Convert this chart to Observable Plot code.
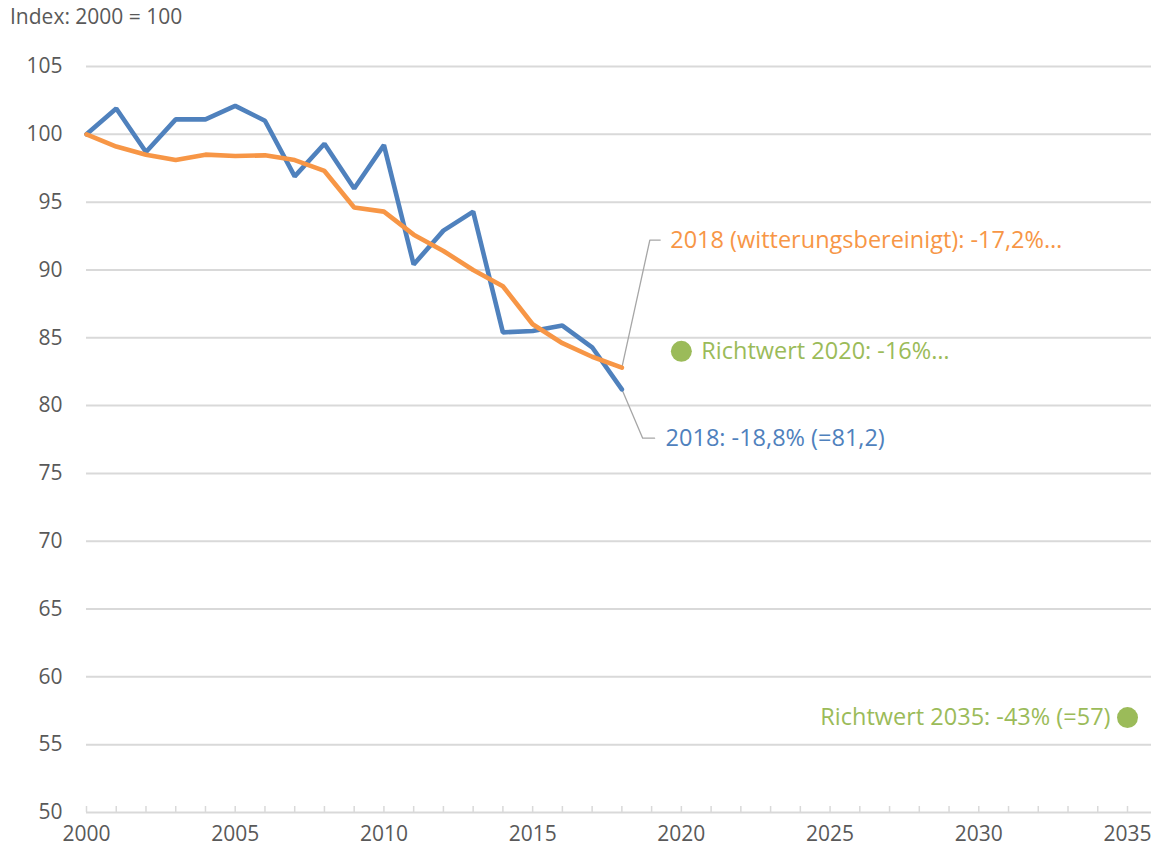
<!DOCTYPE html>
<html>
<head>
<meta charset="utf-8">
<script src="https://cdn.jsdelivr.net/npm/d3@7"></script>
<script src="https://cdn.jsdelivr.net/npm/@observablehq/plot@0.6"></script>
<style>
  html, body { margin: 0; padding: 0; background: #fff; }
  body { width: 1151px; height: 855px; overflow: hidden; font-family: "Open Sans", sans-serif; }
  #title { height: 30px; line-height: 32px; padding-left: 10px; font-size: 21px; color: #595959; }
</style>
</head>
<body>
<div id="title">Index: 2000 = 100</div>
<div id="chart"></div>
<script>
// ---- data ----
const years = [2000, 2001, 2002, 2003, 2004, 2005, 2006, 2007, 2008, 2009, 2010, 2011, 2012, 2013, 2014, 2015, 2016, 2017, 2018];
const actual = [100, 101.9, 98.7, 101.1, 101.1, 102.1, 101.0, 96.9, 99.3, 96.0, 99.2, 90.4, 92.9, 94.3, 85.4, 85.5, 85.9, 84.3, 81.2];
const weatherAdjusted = [100, 99.1, 98.5, 98.1, 98.5, 98.4, 98.45, 98.1, 97.3, 94.6, 94.3, 92.6, 91.4, 90.0, 88.8, 86.0, 84.6, 83.6, 82.8];
const targetYears = [2020, 2035];
const targetValues = [84, 57];
const targetLabels = ["Richtwert 2020: -16%…", "Richtwert 2035: -43% (=57)"];
const labelActual = "2018: -18,8% (=81,2)";
const labelAdjusted = "2018 (witterungsbereinigt): -17,2%…";
// callout anchor positions (data units): elbow and end of leader lines
const calloutAdjusted = {elbowYear: 2018.94, endYear: 2019.29, value: 92.2};
const calloutActual = {elbowYear: 2018.7, endYear: 2019.1, value: 77.6};
const yTicks = [50, 55, 60, 65, 70, 75, 80, 85, 90, 95, 100, 105];
const xTickLabels = [2000, 2005, 2010, 2015, 2020, 2025, 2030, 2035];
const xMinorTicks = d3.range(2000, 2036);

const BLUE = "#4f81bd", ORANGE = "#f79646", GREEN = "#9bbb59", GRID = "#d9d9d9", TEXT = "#595959", LEADER = "#a6a6a6";

const series = years.map((y, i) => ({year: y, value: actual[i]}));
const seriesAdj = years.map((y, i) => ({year: y, value: weatherAdjusted[i]}));
const targets = targetYears.map((y, i) => ({year: y, value: targetValues[i], label: targetLabels[i]}));

const lastA = {year: years[years.length - 1], value: actual[actual.length - 1]};
const lastW = {year: years[years.length - 1], value: weatherAdjusted[weatherAdjusted.length - 1]};
const leaderW = [lastW, {year: calloutAdjusted.elbowYear, value: calloutAdjusted.value}, {year: calloutAdjusted.endYear, value: calloutAdjusted.value}];
const leaderA = [lastA, {year: calloutActual.elbowYear, value: calloutActual.value}, {year: calloutActual.endYear, value: calloutActual.value}];

const chart = Plot.plot({
  width: 1151,
  height: 825,
  marginTop: 36,
  marginBottom: 43,
  marginLeft: 86,
  marginRight: 24,
  style: {fontFamily: "Open Sans, sans-serif", fontSize: "20px", color: TEXT, background: "white"},
  x: {domain: [2000, 2035], type: "linear", axis: null},
  y: {domain: [50, 105], axis: null},
  marks: [
    Plot.gridY(yTicks.filter(d => d > 50), {stroke: GRID, strokeOpacity: 1, strokeWidth: 2, insetRight: -24}),
    Plot.ruleY([50], {stroke: GRID, strokeWidth: 2, insetRight: -24}),
    Plot.axisX({ticks: xMinorTicks, tickSize: 6, dy: -6, tickFormat: () => "", stroke: GRID, strokeWidth: 1.5, label: null}),
    // y tick labels
    Plot.text(yTicks, {y: d => d, frameAnchor: "left", dx: -24, textAnchor: "end", fill: TEXT, fontSize: 21}),
    // x tick labels
    Plot.text(xTickLabels, {x: d => d, frameAnchor: "bottom", dy: 28, text: d => String(d), fill: TEXT, fontSize: 21}),
    Plot.line(leaderW, {x: "year", y: "value", stroke: LEADER, strokeWidth: 1.3}),
    Plot.line(leaderA, {x: "year", y: "value", stroke: LEADER, strokeWidth: 1.3}),
    Plot.line(series, {x: "year", y: "value", stroke: BLUE, strokeWidth: 4.6, strokeLinejoin: "miter"}),
    Plot.line(seriesAdj, {x: "year", y: "value", stroke: ORANGE, strokeWidth: 4.6, strokeLinejoin: "miter"}),
    Plot.text([leaderW[2]], {x: "year", y: "value", text: () => labelAdjusted, dx: 10, textAnchor: "start", fill: ORANGE, fontSize: 23.5}),
    Plot.text([leaderA[2]], {x: "year", y: "value", text: () => labelActual, dx: 11, textAnchor: "start", fill: BLUE, fontSize: 23.5}),
    Plot.dot(targets, {x: "year", y: "value", r: 10.5, fill: GREEN}),
    Plot.text([targets[0]], {x: "year", y: "value", text: "label", dx: 20, textAnchor: "start", fill: GREEN, fontSize: 23.5}),
    Plot.text([targets[1]], {x: "year", y: "value", text: "label", dx: -17, textAnchor: "end", fill: GREEN, fontSize: 23.5})
  ]
});
document.getElementById("chart").appendChild(chart);
</script>
</body>
</html>
